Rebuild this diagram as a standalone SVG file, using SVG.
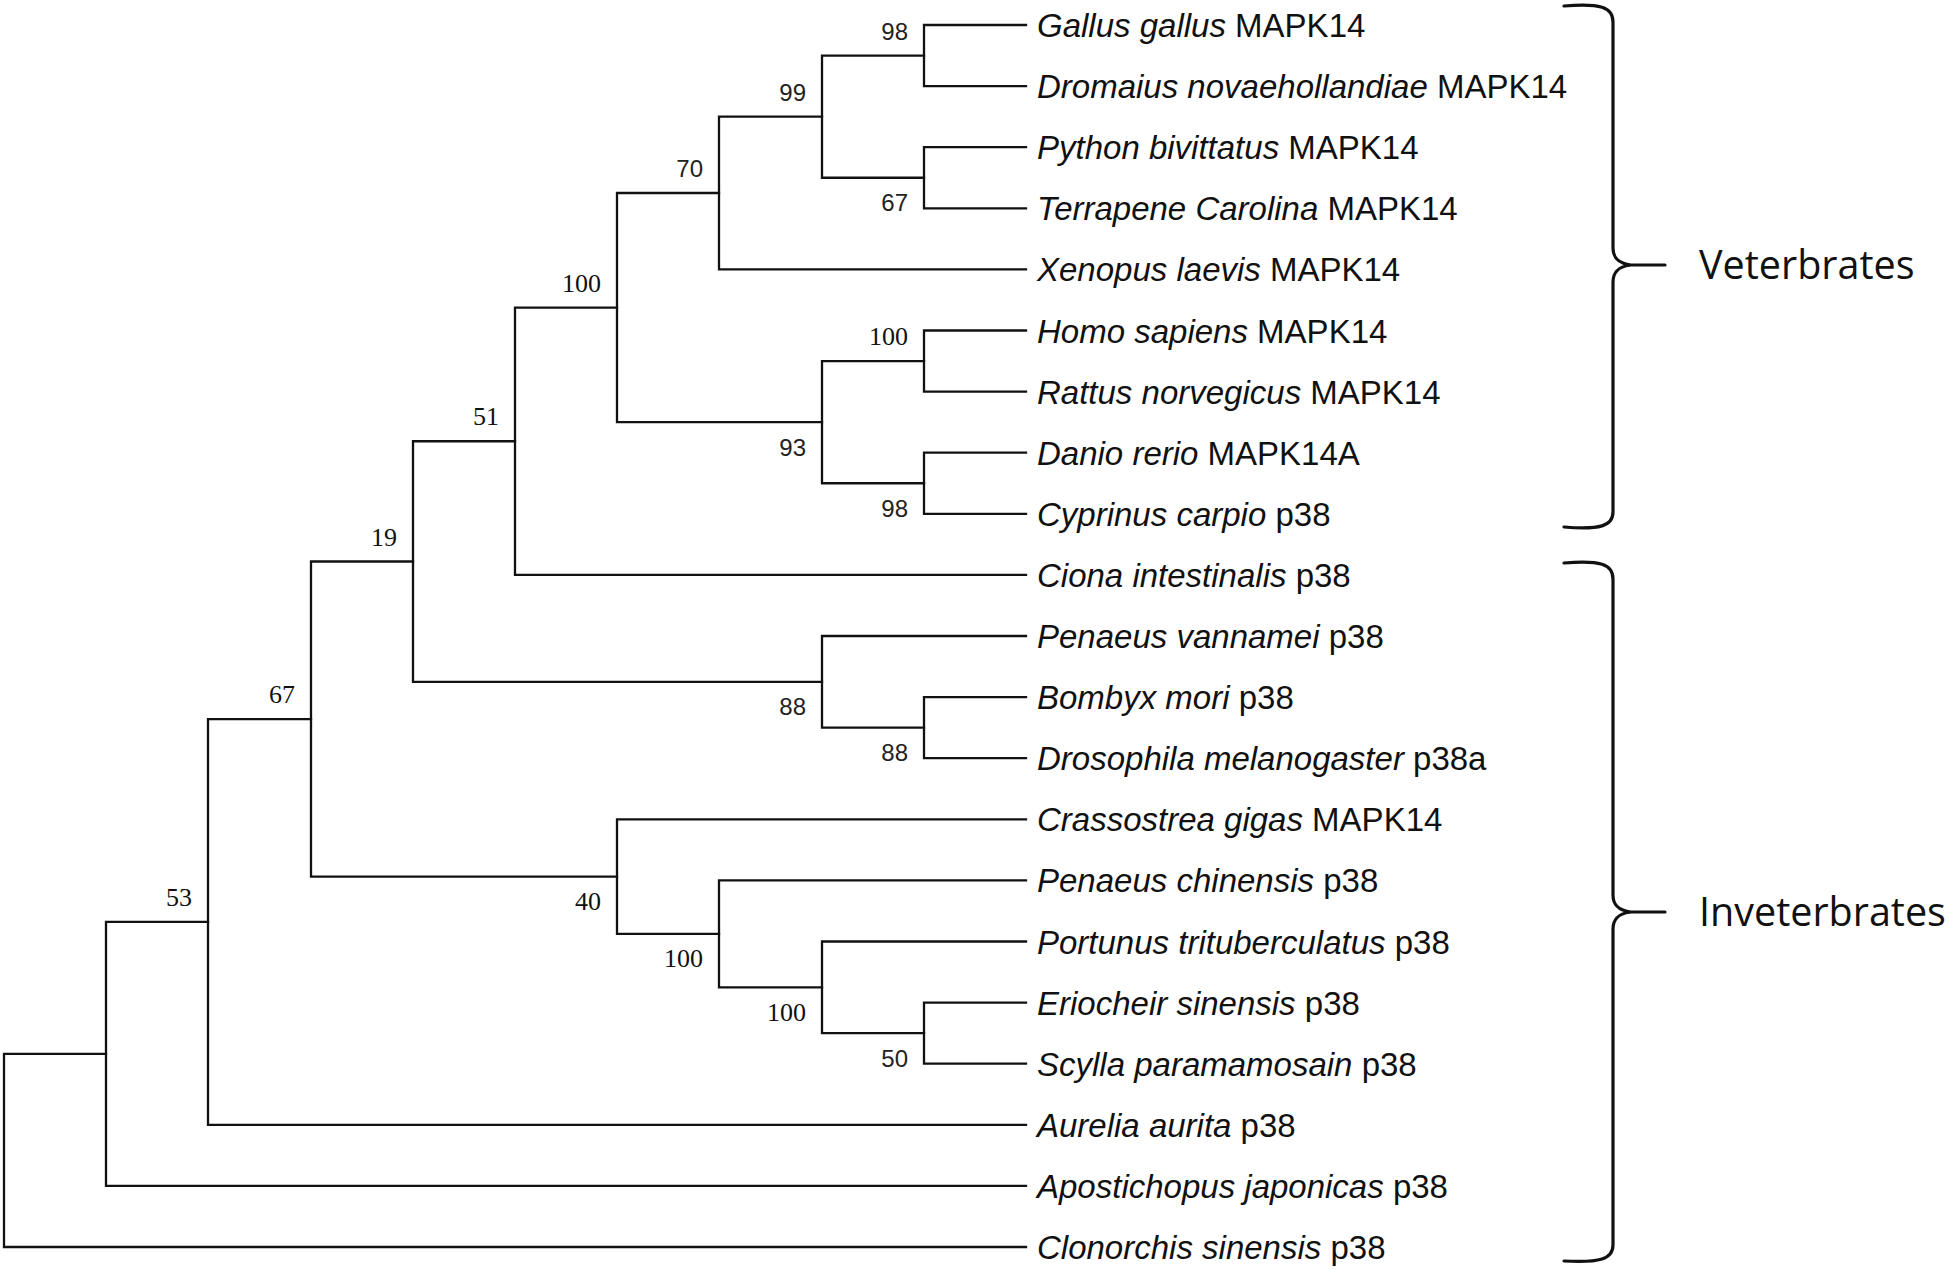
<svg xmlns="http://www.w3.org/2000/svg" width="1950" height="1270" viewBox="0 0 1950 1270">
<style>
.br{fill:none;stroke:#111;stroke-width:2.3;stroke-linecap:square;stroke-linejoin:miter}
.brace{fill:none;stroke:#111;stroke-width:3.2;stroke-linecap:round}
.leaf{font-family:"Liberation Sans",Arial,sans-serif;font-size:33px;fill:#111}
.leaf .i{font-style:italic}
.bs{font-family:"Liberation Sans",Arial,sans-serif;font-size:24px;fill:#222;text-anchor:end}
.bt{font-family:"Liberation Serif","Times New Roman",serif;font-size:26px;fill:#111;text-anchor:end}
.grp{font-family:"Open Sans","Noto Sans",sans-serif;font-size:39.5px;fill:#111}
</style>
<rect width="1950" height="1270" fill="#fff"/>
<g id="connectors">
<path class="br" d="M1026 25 H924 V86.1 H1026"/>
<path class="br" d="M1026 147.2 H924 V208.3 H1026"/>
<path class="br" d="M924 55.55 H822 V177.75 H924"/>
<path class="br" d="M822 116.65 H719 V269.4 H1026"/>
<path class="br" d="M1026 330.5 H924 V391.6 H1026"/>
<path class="br" d="M1026 452.7 H924 V513.8 H1026"/>
<path class="br" d="M924 361.05 H822 V483.25 H924"/>
<path class="br" d="M719 193 H617 V422.15 H822"/>
<path class="br" d="M617 307.6 H515 V574.9 H1026"/>
<path class="br" d="M1026 697.1 H924 V758.2 H1026"/>
<path class="br" d="M1026 636 H822 V727.65 H924"/>
<path class="br" d="M515 441.25 H413 V681.8 H822"/>
<path class="br" d="M1026 1002.6 H924 V1063.7 H1026"/>
<path class="br" d="M1026 941.5 H822 V1033.15 H924"/>
<path class="br" d="M1026 880.4 H719 V987.3 H822"/>
<path class="br" d="M1026 819.3 H617 V933.85 H719"/>
<path class="br" d="M413 561.5 H311 V876.6 H617"/>
<path class="br" d="M311 719.05 H208 V1124.8 H1026"/>
<path class="br" d="M208 921.9 H106 V1185.9 H1026"/>
<path class="br" d="M106 1053.9 H4 V1247 H1026"/>
</g>
<g id="leaves">
<g id="leaf-gallus"><text class="leaf" x="1037" y="37"><tspan class="i">Gallus gallus</tspan> MAPK14</text></g>
<g id="leaf-dromaius"><text class="leaf" x="1037" y="98.1"><tspan class="i">Dromaius novaehollandiae</tspan> MAPK14</text></g>
<g id="leaf-python"><text class="leaf" x="1037" y="159.2"><tspan class="i">Python bivittatus</tspan> MAPK14</text></g>
<g id="leaf-terrapene"><text class="leaf" x="1037" y="220.3"><tspan class="i">Terrapene Carolina</tspan> MAPK14</text></g>
<g id="leaf-xenopus"><text class="leaf" x="1037" y="281.4"><tspan class="i">Xenopus laevis</tspan> MAPK14</text></g>
<g id="leaf-homo"><text class="leaf" x="1037" y="342.5"><tspan class="i">Homo sapiens</tspan> MAPK14</text></g>
<g id="leaf-rattus"><text class="leaf" x="1037" y="403.6"><tspan class="i">Rattus norvegicus</tspan> MAPK14</text></g>
<g id="leaf-danio"><text class="leaf" x="1037" y="464.7"><tspan class="i">Danio rerio</tspan> MAPK14A</text></g>
<g id="leaf-cyprinus"><text class="leaf" x="1037" y="525.8"><tspan class="i">Cyprinus carpio</tspan> p38</text></g>
<g id="leaf-ciona"><text class="leaf" x="1037" y="586.9"><tspan class="i">Ciona intestinalis</tspan> p38</text></g>
<g id="leaf-pvannamei"><text class="leaf" x="1037" y="648"><tspan class="i">Penaeus vannamei</tspan> p38</text></g>
<g id="leaf-bombyx"><text class="leaf" x="1037" y="709.1"><tspan class="i">Bombyx mori</tspan> p38</text></g>
<g id="leaf-drosophila"><text class="leaf" x="1037" y="770.2"><tspan class="i">Drosophila melanogaster</tspan> p38a</text></g>
<g id="leaf-crassostrea"><text class="leaf" x="1037" y="831.3"><tspan class="i">Crassostrea gigas</tspan> MAPK14</text></g>
<g id="leaf-pchinensis"><text class="leaf" x="1037" y="892.4"><tspan class="i">Penaeus chinensis</tspan> p38</text></g>
<g id="leaf-portunus"><text class="leaf" x="1037" y="953.5"><tspan class="i">Portunus trituberculatus</tspan> p38</text></g>
<g id="leaf-eriocheir"><text class="leaf" x="1037" y="1014.6"><tspan class="i">Eriocheir sinensis</tspan> p38</text></g>
<g id="leaf-scylla"><text class="leaf" x="1037" y="1075.7"><tspan class="i">Scylla paramamosain</tspan> p38</text></g>
<g id="leaf-aurelia"><text class="leaf" x="1037" y="1136.8"><tspan class="i">Aurelia aurita</tspan> p38</text></g>
<g id="leaf-apostichopus"><text class="leaf" x="1037" y="1197.9"><tspan class="i">Apostichopus japonicas</tspan> p38</text></g>
<g id="leaf-clonorchis"><text class="leaf" x="1037" y="1259"><tspan class="i">Clonorchis sinensis</tspan> p38</text></g>
</g>
<g id="internal-nodes">
<g id="n98a"><text class="bs" x="908" y="39.5">98</text></g>
<g id="n67a"><text class="bs" x="908" y="211.3">67</text></g>
<g id="n99"><text class="bs" x="806" y="100.7">99</text></g>
<g id="n70"><text class="bs" x="703" y="177">70</text></g>
<g id="n100b"><text class="bt" x="908" y="345">100</text></g>
<g id="n98b"><text class="bs" x="908" y="516.8">98</text></g>
<g id="n93"><text class="bs" x="806" y="455.7">93</text></g>
<g id="n100a"><text class="bt" x="601" y="291.6">100</text></g>
<g id="n51"><text class="bt" x="499" y="425.3">51</text></g>
<g id="n88b"><text class="bs" x="908" y="761.2">88</text></g>
<g id="n88a"><text class="bs" x="806" y="715.3">88</text></g>
<g id="n19"><text class="bt" x="397" y="545.5">19</text></g>
<g id="n50"><text class="bs" x="908" y="1066.7">50</text></g>
<g id="n100d"><text class="bt" x="806" y="1020.7">100</text></g>
<g id="n100c"><text class="bt" x="703" y="967.4">100</text></g>
<g id="n40"><text class="bt" x="601" y="910.1">40</text></g>
<g id="n67b"><text class="bt" x="295" y="703">67</text></g>
<g id="n53"><text class="bt" x="192" y="905.9">53</text></g>
</g>
<g id="group-vertebrates">
<path class="brace" d="M1564 6 C1600 3 1613 7 1613 22 L1613 248 C1613 258 1618 263 1630 265 C1618 267 1613 272 1613 282 L1613 512 C1613 526 1600 530 1564 527"/>
<path class="brace" d="M1628 265 L1665 265"/>
<text class="grp" x="1699" y="279">Veterbrates</text>
</g>
<g id="group-invertebrates">
<path class="brace" d="M1564 563 C1600 560 1613 564 1613 579 L1613 895 C1613 905 1618 910 1630 912 C1618 914 1613 919 1613 929 L1613 1245 C1613 1259 1600 1263 1564 1261"/>
<path class="brace" d="M1628 912 L1665 912"/>
<text class="grp" x="1699" y="926">Inveterbrates</text>
</g>
</svg>
